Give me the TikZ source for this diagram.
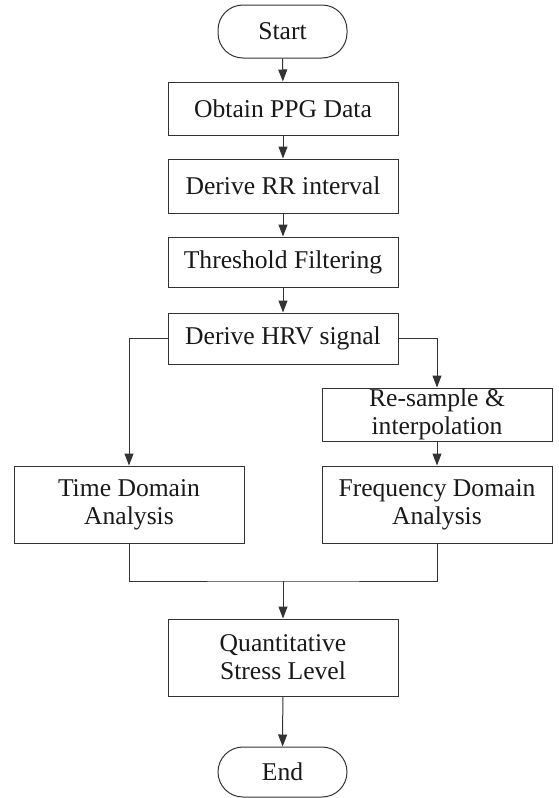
\documentclass[tikz,border=0pt]{standalone}
\usepackage{fontspec}
\setmainfont{Liberation Serif}
\usetikzlibrary{arrows.meta}
\begin{document}
\begin{tikzpicture}[x=1pt,y=-1pt,
  every node/.style={font=\fontsize{25.6}{28}\selectfont, text=black!90, align=center, inner sep=0pt},
  box/.style={draw=black!80, line width=1pt, minimum width=230pt},
  pill/.style={draw=black!80, line width=1pt, minimum width=129pt, rounded corners=25pt},
  conn/.style={draw=black!80, line width=1pt},
  arr/.style={conn, -{Triangle[length=12pt,width=9pt]}}]
\useasboundingbox (0,0) rectangle (558,798);
\node[pill, minimum height=53pt] (start) at (282.5,31.5) {Start};
\node[box, minimum height=53pt] (obtain) at (283,108.5) {Obtain PPG Data};
\node[box, minimum height=54pt] (rr) at (283,186) {Derive RR interval};
\node[box, minimum height=50pt] (thr) at (283,262) {Threshold Filtering};
\node[box, minimum height=51pt] (hrv) at (283,338.5) {Derive HRV signal};
\node[box, minimum height=53pt] (res) at (437,414.5) {Re-sample \&\\interpolation};
\node[box, minimum height=77pt] (time) at (129,504.5) {Time Domain\\Analysis};
\node[box, minimum height=77pt] (freq) at (437,504.5) {Frequency Domain\\Analysis};
\node[box, minimum height=77pt] (quant) at (283,657.5) {Quantitative\\Stress Level};
\node[pill, minimum height=50pt] (end) at (282.5,772) {End};
\coordinate (m) at (283,581);
\draw[arr] (start) -- (obtain);
\draw[arr] (obtain) -- (rr);
\draw[arr] (rr) -- (thr);
\draw[arr] (thr) -- (hrv);
\draw[arr] (hrv.west) -| (time.north);
\draw[arr] (hrv.east) -| (res.north);
\draw[arr] (res) -- (freq);
\draw[conn] (time.south) |- (m) -| (freq.south);
\draw[arr] (m) -- (quant.north);
\draw[arr] (quant) -- (end);
\end{tikzpicture}
\end{document}
